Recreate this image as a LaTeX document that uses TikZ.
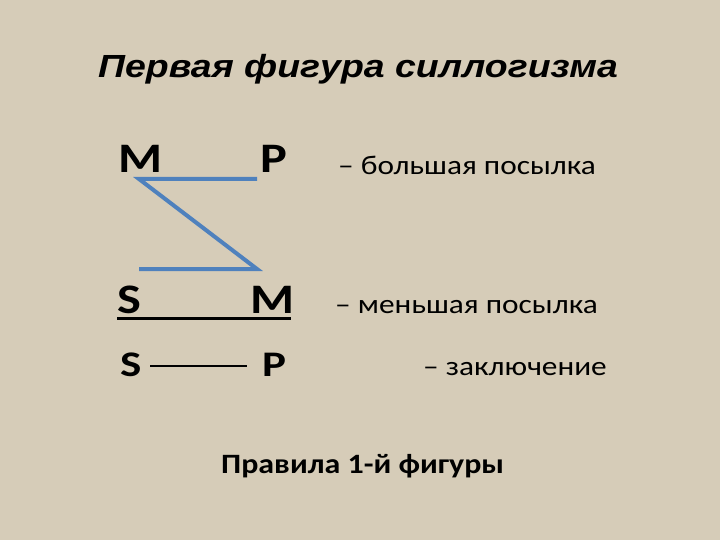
\documentclass[tikz,border=0pt]{standalone}
\usepackage{graphicx}
\usepackage{fontspec}
\setmainfont{Carlito}
\newfontfamily\titlefont{Liberation Sans}
\newcommand\wide[2]{\scalebox{#1}[1]{#2}}
\definecolor{bg}{RGB}{214,204,184}
\definecolor{lineblue}{RGB}{79,129,189}
\begin{document}
\begin{tikzpicture}[x=1pt,y=-1pt,
  letter/.style={anchor=base west, inner sep=0pt, font=\bfseries\fontsize{42}{48}\selectfont},
  smallletter/.style={anchor=base west, inner sep=0pt, font=\bfseries\fontsize{36}{42}\selectfont},
  desc/.style={anchor=base west, inner sep=0pt, font=\fontsize{27}{32}\selectfont},
  blueline/.style={draw=lineblue, line width=4pt, line join=miter},
  blackrule/.style={draw=black, line width=3pt},
  thinrule/.style={draw=black, line width=1.5pt}]
\fill[bg] (0,0) rectangle (720,540);
\useasboundingbox (0,0) rectangle (720,540);
\node[anchor=base, inner sep=0pt, font=\titlefont\bfseries\itshape\fontsize{32}{38}\selectfont] (title) at (358,78) {\wide{1.17}{Первая фигура силлогизма}};
\node[letter] (M1) at (118,173) {\wide{1.2}{M}};
\node[letter] (P1) at (260,173) {\wide{1.2}{P}};
\node[letter] (S2) at (117,313) {\wide{1.2}{S}};
\node[letter] (M2) at (250,313) {\wide{1.2}{M}};
\node[smallletter] (S3) at (120,376) {\wide{1.25}{S}};
\node[smallletter] (P3) at (262,376) {\wide{1.25}{P}};
\node[desc] (d1) at (338,175) {\wide{1.16}{– большая посылка}};
\node[desc] (d2) at (335,313) {\wide{1.16}{– меньшая посылка}};
\node[desc] (d3) at (423,375) {\wide{1.16}{– заключение}};
\node[anchor=base west, inner sep=0pt, font=\bfseries\fontsize{28}{32}\selectfont] (rule) at (221,473) {\wide{1.14}{Правила 1-й фигуры}};
\coordinate (a1) at (139,179);
\coordinate (a2) at (257,179);
\coordinate (b1) at (139,269);
\coordinate (b2) at (257,269);
\path[blueline] (a2) -- (a1) -- (b2) -- (b1);
\coordinate (u1) at (117,318);
\coordinate (u2) at (291,318);
\path[blackrule] (u1) -- (u2);
\coordinate (t1) at (150,366);
\coordinate (t2) at (247,366);
\path[thinrule] (t1) -- (t2);
\end{tikzpicture}
\end{document}
